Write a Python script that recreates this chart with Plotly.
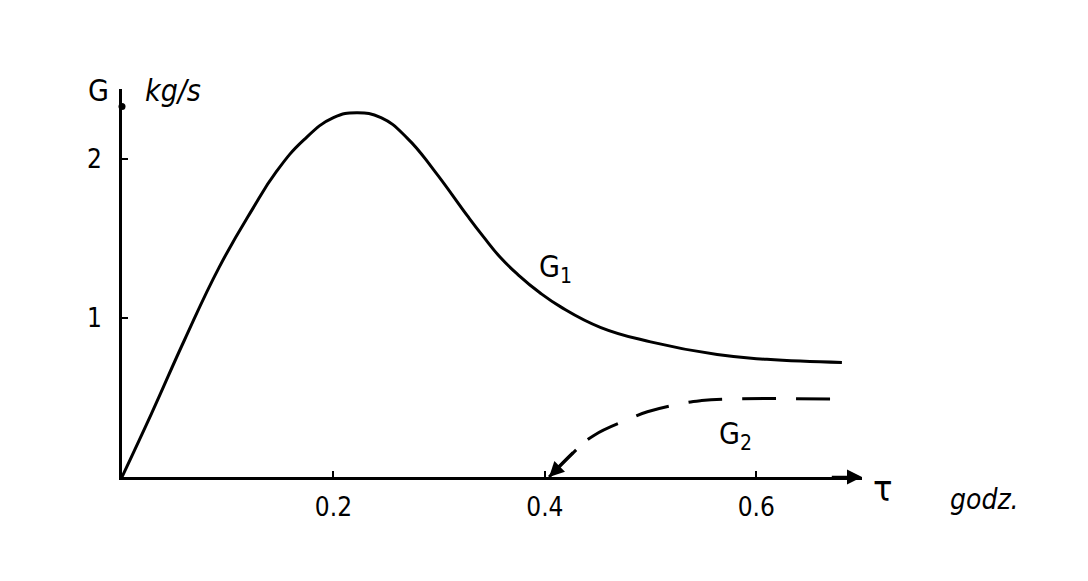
""" G1 / G2 mass flow vs time, hand-drawn style sketch """

import plotly.graph_objects as go

# tau [godz.] and G [kg/s]
tau_g1 = [0.0, 0.028, 0.059, 0.092, 0.123, 0.146, 0.172, 0.200, 0.222, 0.245,
          0.270, 0.295, 0.327, 0.342, 0.358, 0.375, 0.395, 0.415, 0.453, 0.500,
          0.563, 0.610, 0.681]
g1 = [0.0, 0.40, 0.86, 1.32, 1.68, 1.92, 2.12, 2.26, 2.29, 2.26,
      2.13, 1.93, 1.64, 1.51, 1.38, 1.27, 1.16, 1.07, 0.94, 0.85,
      0.77, 0.74, 0.72]

tau_g2 = [0.404, 0.431, 0.446, 0.478, 0.497, 0.528, 0.547, 0.569, 0.682]
g2 = [0.0, 0.18, 0.26, 0.36, 0.41, 0.46, 0.48, 0.49, 0.49]

x_ticks = [0.2, 0.4, 0.6]
x_ticklabels = ["0.2", "0.4", "0.6"]
y_ticks = [1, 2]
y_ticklabels = ["1", "2"]

TAU_MAX = 0.70
G_MAX = 2.44
FONT = "DejaVu Sans Condensed, DejaVu Sans"

fig = go.Figure()

fig.add_trace(go.Scatter(x=tau_g1, y=g1, mode="lines",
                         line=dict(color="black", width=3, shape="spline", smoothing=1.3),
                         cliponaxis=False))
fig.add_trace(go.Scatter(x=tau_g2, y=g2, mode="lines",
                         line=dict(color="black", width=3, dash="34px,20px",
                                   shape="spline", smoothing=1.3),
                         cliponaxis=False))
# blob at top of the y axis
fig.add_trace(go.Scatter(x=[0], y=[2.33], mode="markers",
                         marker=dict(color="black", size=7), cliponaxis=False))

# arrows: end of the tau axis and start of G2
fig.add_annotation(x=TAU_MAX, y=0, ax=TAU_MAX - 0.03, ay=0, xref="x", yref="y",
                   axref="x", ayref="y", text="", showarrow=True,
                   arrowhead=2, arrowsize=1.2, arrowwidth=2.5, arrowcolor="black")
fig.add_annotation(x=tau_g2[0], y=g2[0], ax=tau_g2[1], ay=g2[1], xref="x", yref="y",
                   axref="x", ayref="y", text="", showarrow=True,
                   arrowhead=2, arrowsize=1, arrowwidth=3, arrowcolor="black")

# axis titles sit outside the plot area -> paper coords
paper_labels = [
    (-0.032, 0.995, "G", 30, "normal"),
    (0.069, 0.995, "kg/s", 30, "italic"),
    (1.028, -0.03, "τ", 36, "normal"),
    (1.166, -0.058, "godz.", 28, "italic"),
]
for x, y, t, s, st in paper_labels:
    fig.add_annotation(x=x, y=y, text=t, showarrow=False, xref="paper", yref="paper",
                       xanchor="center", yanchor="middle",
                       font=dict(family=FONT, size=s, color="black", style=st))

curve_labels = [
    (0.41, 1.31, "G<sub>1</sub>"),
    (0.58, 0.26, "G<sub>2</sub>"),
]
for x, y, t in curve_labels:
    fig.add_annotation(x=x, y=y, text=t, showarrow=False, xref="x", yref="y",
                       font=dict(family=FONT, size=30, color="black"))

fig.update_xaxes(range=[0, TAU_MAX], showline=True, linecolor="black", linewidth=3,
                 showgrid=False, zeroline=False, ticks="inside", ticklen=6,
                 tickwidth=2, tickcolor="black", tickvals=x_ticks,
                 ticktext=x_ticklabels, ticklabelstandoff=5,
                 tickfont=dict(family=FONT, size=26, color="black"))
fig.update_yaxes(range=[0, G_MAX], showline=True, linecolor="black", linewidth=3,
                 showgrid=False, zeroline=False, ticks="inside", ticklen=6,
                 tickwidth=2, tickcolor="black", tickvals=y_ticks,
                 ticktext=y_ticklabels, ticklabelstandoff=12,
                 tickfont=dict(family=FONT, size=26, color="black"))

# page body has an 8px default margin, so the figure is 8px smaller
fig.update_layout(width=1080, height=573, showlegend=False,
                  margin=dict(l=114, r=226, t=81, b=104, autoexpand=False),
                  paper_bgcolor="white", plot_bgcolor="white")

fig.write_html("out.html")
